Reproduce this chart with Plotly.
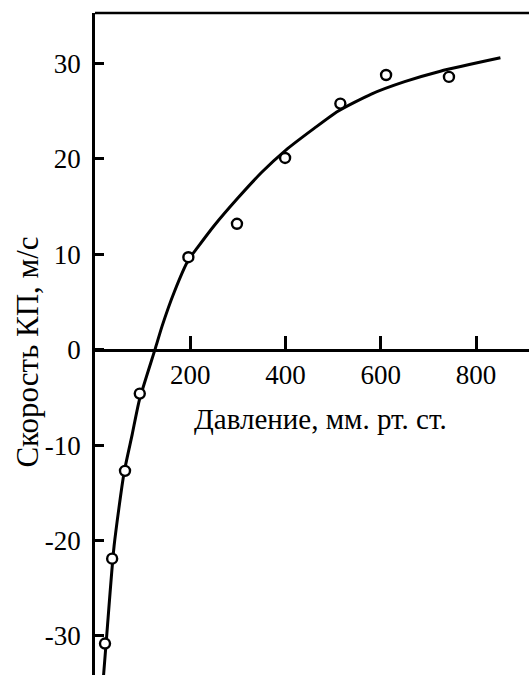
import plotly.graph_objects as go

# Measured points (pressure, mm Hg ; velocity, m/s)
pressure_pts = [21, 36, 63, 94, 196, 298, 399, 515, 611, 743]
velocity_pts = [-30.8, -21.9, -12.7, -4.6, 9.7, 13.2, 20.1, 25.8, 28.8, 28.6]

# Hand-drawn fitted curve
curve_x = [18, 25, 40, 61, 78, 93, 127, 141, 166, 196, 215, 250, 298, 350, 400, 460, 510, 580, 650, 725, 851]
curve_y = [-34.1, -29.7, -20.6, -12.9, -8.9, -5.3, 0.2, 2.5, 6.0, 9.4, 10.7, 13.0, 15.8, 18.6, 20.9, 23.2, 25.0, 26.8, 28.1, 29.2, 30.6]

x_ticks = [200, 400, 600, 800]
y_ticks = [-30, -20, -10, 0, 10, 20, 30]
x_title = "Давление, мм. рт. ст."
y_title = "Скорость КП, м/с"

x_range = [0, 911]
y_range = [-34.1, 35.3]

FONT = "Liberation Serif, Times New Roman, serif"

fig = go.Figure()
fig.add_trace(go.Scatter(
    x=curve_x, y=curve_y, mode="lines",
    line=dict(color="black", width=3, shape="spline", smoothing=0.6),
    hoverinfo="skip", showlegend=False,
))
fig.add_trace(go.Scatter(
    x=pressure_pts, y=velocity_pts, mode="markers",
    marker=dict(symbol="circle", size=10, color="white",
                line=dict(color="black", width=2.4)),
    showlegend=False,
))

zero_frac = (0 - y_range[0]) / (y_range[1] - y_range[0])

fig.update_layout(
    width=529, height=675,
    margin=dict(l=95, r=0, t=13, b=0),
    paper_bgcolor="white", plot_bgcolor="white",
    font=dict(family=FONT, size=27, color="black"),
    xaxis=dict(
        range=x_range, tickvals=x_ticks, ticktext=[str(v) for v in x_ticks],
        ticks="inside", ticklen=13, tickwidth=2.5, tickcolor="black",
        showline=True, linecolor="black", linewidth=2.5,
        showgrid=False, zeroline=False,
        anchor="free", position=zero_frac, ticklabelstandoff=0,
        tickfont=dict(family=FONT, size=27, color="black"),
    ),
    yaxis=dict(
        range=y_range, tickvals=y_ticks, ticktext=[str(v) for v in y_ticks],
        ticks="inside", ticklen=9, tickwidth=2.5, tickcolor="black",
        showline=True, linecolor="black", linewidth=2.5,
        showgrid=False, zeroline=False, ticklabelstandoff=6,
        tickfont=dict(family=FONT, size=27, color="black"),
    ),
    shapes=[dict(type="line", xref="paper", yref="paper", x0=0, x1=1, y0=1, y1=1,
                 line=dict(color="black", width=2.5))],
    annotations=[
        dict(text=x_title, xref="paper", yref="paper", x=0.5196, y=0.387,
             xanchor="center", yanchor="middle", showarrow=False,
             font=dict(family=FONT, size=29, color="black")),
        dict(text=y_title, xref="paper", yref="paper", x=0, y=0.487,
             xanchor="center", yanchor="middle", xshift=-67, textangle=-90,
             showarrow=False, font=dict(family=FONT, size=31, color="black")),
    ],
)

fig.write_html("out.html")
